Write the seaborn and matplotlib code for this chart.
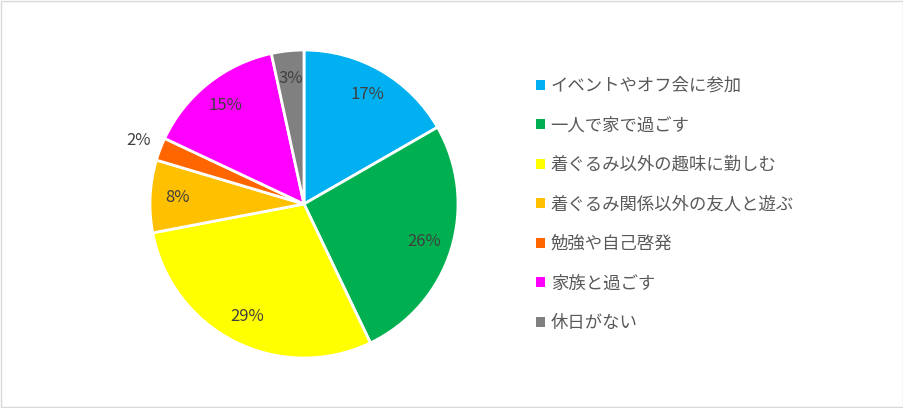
import matplotlib
matplotlib.use('Agg')
import matplotlib.pyplot as plt
import seaborn as sns
from matplotlib.patches import Patch, Rectangle

labels = ['イベントやオフ会に参加', '一人で家で過ごす', '着ぐるみ以外の趣味に勤しむ',
          '着ぐるみ関係以外の友人と遊ぶ', '勉強や自己啓発', '家族と過ごす', '休日がない']
values = [16.7, 26.2, 29.1, 7.6, 2.4, 14.6, 3.4]
colors = ['#00b0f0', '#00b050', '#ffff00', '#ffc000', '#ff6600', '#ff00ff', '#808080']

sns.set_style('white')
plt.rcParams['font.family'] = ['Noto Sans CJK JP', 'DejaVu Sans']

fig = plt.figure(figsize=(9.04, 4.08), dpi=100)
ax = fig.add_axes([150 / 904, 50 / 408, 308 / 904, 308 / 408])

wedges, texts, autotexts = ax.pie(values, colors=colors, startangle=90, counterclock=False,
                                  autopct='%.0f%%', pctdistance=0.82,
                                  wedgeprops=dict(edgecolor='white', linewidth=2),
                                  textprops=dict(color='#404040', fontsize=12))
ax.set_xlim(-1, 1)
ax.set_ylim(-1, 1)
ax.set_aspect('equal')

# small slice label goes outside
x, y = autotexts[4].get_position()
autotexts[4].set_position((x / 0.82 * 1.15, y / 0.82 * 1.15))

handles = [Patch(facecolor=c, edgecolor='none') for c in colors]
fig.legend(handles, labels, loc='upper left', bbox_to_anchor=(529 / 904, 1 - 70 / 408),
           frameon=False, fontsize=12.5, labelcolor='#595959',
           handlelength=0.5, handleheight=0.5, handletextpad=0.35, labelspacing=1.24,
           borderaxespad=0)

fig.patches.append(Rectangle((0.0008, 0.0015), 0.998, 0.996, transform=fig.transFigure,
                             fill=False, edgecolor='#d9d9d9', linewidth=1))

fig.savefig('out.png', dpi=100)
